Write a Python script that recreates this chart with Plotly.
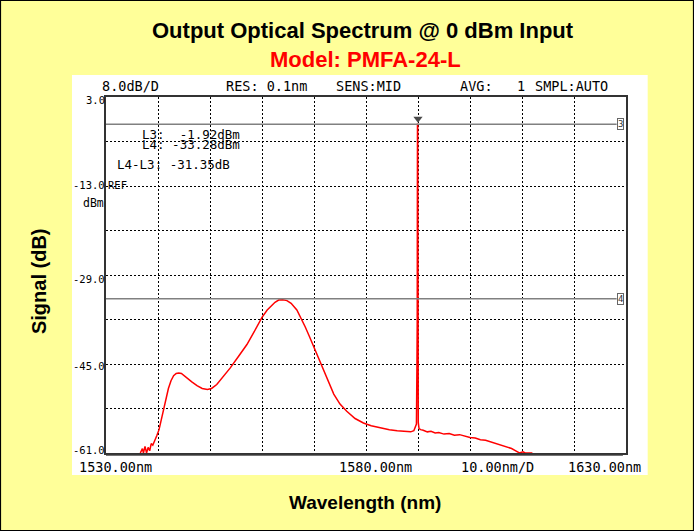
import plotly.graph_objects as go

# ---- spectrum data ----
wavelength_nm = [
    1536.6, 1537.0, 1537.2, 1537.5, 1537.8, 1538.1, 1538.4, 1538.7, 1539.0, 1539.4,
    1539.8, 1540.2, 1540.6, 1541.0, 1541.5, 1542.0, 1542.5, 1543.0, 1543.5, 1544.0,
    1544.5, 1545.0, 1545.6, 1546.5, 1547.5, 1548.5, 1549.5, 1550.3, 1551.3, 1552.5,
    1553.9, 1555.5, 1557.1, 1558.5, 1560.0, 1561.0, 1561.6, 1562.5, 1563.2, 1564.0,
    1564.8, 1565.6, 1566.7, 1567.5, 1568.3, 1569.1, 1569.9, 1570.7, 1571.5, 1572.6,
    1573.8, 1575.0, 1576.3, 1577.9, 1579.5, 1581.0, 1582.8, 1584.5, 1586.0, 1587.5,
    1588.6, 1589.2, 1589.5, 1589.7, 1589.8, 1589.85, 1589.9, 1589.95, 1590.0, 1590.05,
    1590.2, 1590.5, 1591.0, 1591.8, 1592.5, 1593.3, 1594.0, 1595.0, 1596.0, 1597.0,
    1598.0, 1599.0, 1600.0, 1601.0, 1602.0, 1603.0, 1604.0, 1605.0, 1606.0, 1607.0,
    1608.0, 1608.8, 1609.5, 1610.2, 1610.6, 1612.0,
]
power_dbm = [
    -61.0, -60.2, -61.0, -59.8, -61.0, -60.0, -60.6, -59.3, -59.6, -58.5,
    -57.8, -56.8, -55.2, -53.2, -51.2, -49.4, -48.0, -47.1, -46.7, -46.6,
    -46.7, -47.1, -47.5, -48.2, -48.9, -49.4, -49.6, -49.4, -48.7, -47.4,
    -45.7, -43.6, -41.5, -39.2, -36.6, -35.3, -34.7, -33.9, -33.5, -33.45,
    -33.6, -34.1, -35.3, -36.7, -38.3, -40.0, -41.8, -43.6, -45.4, -47.9,
    -50.4, -52.2, -53.5, -54.8, -55.6, -56.1, -56.5, -56.8, -57.0, -57.1,
    -57.2, -57.0, -56.4, -55.8, -45.0, -37.5, -1.92, -1.92, -28.8, -55.5,
    -56.6, -56.8, -56.9, -57.2, -57.1, -57.4, -57.3, -57.6, -57.5, -57.8,
    -57.7, -58.0, -58.2, -58.3, -58.6, -58.7, -59.0, -59.2, -59.6, -59.8,
    -60.2, -60.6, -61.0, -60.8, -61.0, -61.0,
]

# marker lines / readouts
l3_dbm = -1.92
l4_dbm = -33.28
peak_marker_nm = [1590.0]
peak_marker_db = [-0.9]

x_range = [1530, 1630]
y_range = [-61, 3]
y_tick_labels = ["3.0", "-13.0", "-29.0", "-45.0", "-61.0"]
x_tick_labels = ["1530.00nm", "1580.00nm", "10.00nm/D", "1630.00nm"]
header_labels = ["8.0dB/D", "RES: 0.1nm", "SENS:MID", "AVG:   1", "SMPL:AUTO"]
readout_labels = ["L3:  -1.92dBm", "L4: -33.28dBm", "L4-L3: -31.35dB"]

MONO = "DejaVu Sans Mono"
SANS = "Liberation Sans, Arial"

fig = go.Figure()
fig.add_trace(go.Scatter(x=wavelength_nm, y=power_dbm, mode="lines",
                         line=dict(color="#FF0000", width=1.5), showlegend=False,
                         hoverinfo="skip"))
fig.add_trace(go.Scatter(x=peak_marker_nm, y=peak_marker_db, mode="markers",
                         marker=dict(symbol="triangle-down", size=8, color="#4a4a4a"),
                         showlegend=False, hoverinfo="skip"))

shapes = [
    # outer border
    dict(type="rect", xref="paper", yref="paper", x0=-0.2029, x1=1.1298, y0=-0.2177, y1=1.2711,
         line=dict(color="#000000", width=1.2), fillcolor="rgba(0,0,0,0)", layer="below"),
    # white instrument panel
    dict(type="rect", xref="paper", yref="paper", x0=-0.0654, x1=1.0417, y0=-0.0618, y1=1.0618,
         line=dict(width=0), fillcolor="#FFFFFF", layer="below"),
    # marker lines
    dict(type="line", xref="x", yref="y", x0=1530, x1=1628.2, y0=l3_dbm, y1=l3_dbm,
         line=dict(color="#808080", width=1.5)),
    dict(type="line", xref="x", yref="y", x0=1530, x1=1628.2, y0=l4_dbm, y1=l4_dbm,
         line=dict(color="#808080", width=1.5)),
    # second bottom line
    dict(type="line", xref="paper", yref="paper", x0=0, x1=0.994, y0=-0.0065, y1=-0.0065,
         line=dict(color="#555555", width=1)),
]

ann = []
def add(text, x, y, font, xanchor="left", **kw):
    d = dict(text=text, xref="paper", yref="paper", x=x, y=y, xanchor=xanchor,
             yanchor="middle", showarrow=False, font=font)
    d.update(kw)
    ann.append(d)

add("<b>Output Optical Spectrum @ 0 dBm Input</b>", 0.4942, 1.1882,
    dict(family=SANS, size=22, color="#000000"), xanchor="center")
add("<b>Model: PMFA-24-L</b>", 0.4981, 1.1067,
    dict(family=SANS, size=22, color="#FF0000"), xanchor="center")
add("<b>Signal (dB)</b>", -0.1288, 0.4831,
    dict(family=SANS, size=20, color="#000000"), xanchor="center", textangle=-90)
add("<b>Wavelength (nm)</b>", 0.4981, -0.1404,
    dict(family=SANS, size=19, color="#000000"), xanchor="center")

header_x = [-0.0115, 0.2269, 0.4385, 0.676, 0.8202]
for t, xp in zip(header_labels, header_x):
    add(t, xp, 1.0295, dict(family=MONO, size=13.5, color="#000000"))

xlab_x = [-0.0563, 0.4442, 0.6788, 0.8846]
for t, xp in zip(x_tick_labels, xlab_x):
    add(t, xp, -0.0385, dict(family=MONO, size=13.5, color="#000000"))

ylab_y = [0.9916, 0.7528, 0.4888, 0.2444, 0.0084]
for t, yp in zip(y_tick_labels, ylab_y):
    add(t, 0, yp, dict(family=MONO, size=10.5, color="#000000"), xanchor="right", xshift=1)
add("dBm", 0, 0.7022, dict(family=MONO, size=11.5, color="#000000"), xanchor="right")
add("REF", 0, 0.7528, dict(family=MONO, size=10.5, color="#000000"))

readout_pos = [(0.0654, 0.8933), (0.0654, 0.8652), (0.0173, 0.809)]
for t, (xp, yp) in zip(readout_labels, readout_pos):
    add(t, xp, yp, dict(family=MONO, size=12.5, color="#000000"))

for t, yv in (("3", l3_dbm), ("4", l4_dbm)):
    ann.append(dict(text=t, xref="x", yref="y", x=1629.6, y=yv, xanchor="right", yanchor="middle",
                    showarrow=False, bgcolor="#FFFFFF", bordercolor="#666666", borderwidth=1,
                    borderpad=0, font=dict(family=MONO, size=9, color="#333333")))

fig.update_layout(
    width=694, height=531, autosize=False,
    margin=dict(l=106, r=68, t=97, b=78, pad=0),
    paper_bgcolor="#FFFF99", plot_bgcolor="#FFFFFF",
    shapes=shapes, annotations=ann, showlegend=False,
    xaxis=dict(range=x_range, tick0=1530, dtick=10, showticklabels=False, ticks="",
               showgrid=True, gridcolor="#000000", gridwidth=1, griddash="2px,2px",
               showline=True, mirror=True, linecolor="#333333", linewidth=1.5, zeroline=False,
               fixedrange=True),
    yaxis=dict(range=y_range, tick0=3, dtick=8, showticklabels=False, ticks="",
               showgrid=True, gridcolor="#000000", gridwidth=1, griddash="2px,2px",
               showline=True, mirror=True, linecolor="#333333", linewidth=1.5, zeroline=False,
               fixedrange=True),
)

fig.write_html("out.html", config={"displayModeBar": False},
               post_script="document.body.style.margin='0';document.body.style.overflow='hidden';")
